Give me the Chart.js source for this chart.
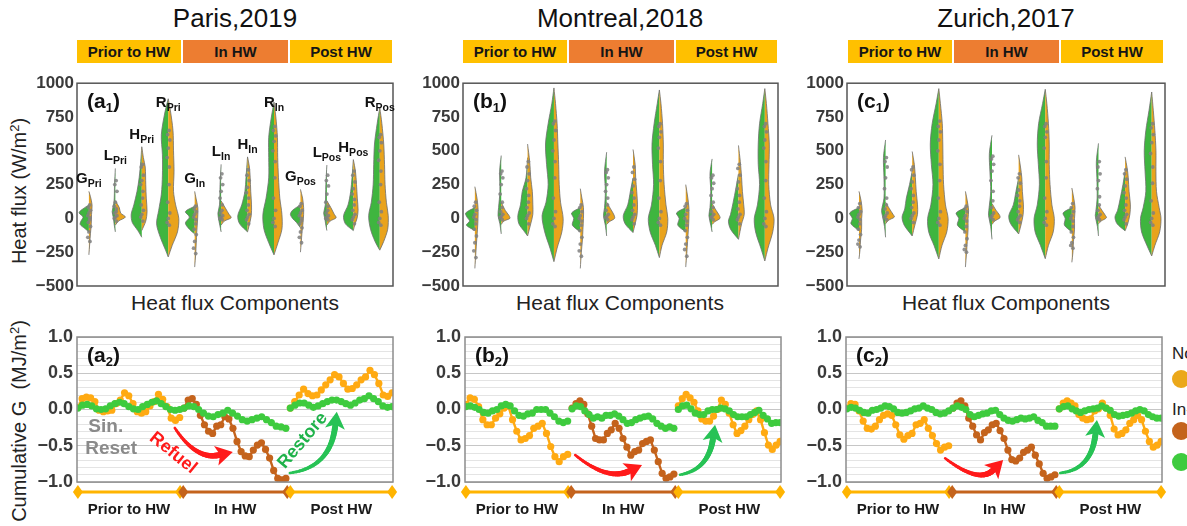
<!DOCTYPE html>
<html>
<head>
<meta charset="utf-8">
<script src="https://cdn.jsdelivr.net/npm/chart.js@4.4.0/dist/chart.umd.min.js"></script>
<style>
body { margin: 0; background: #fff; font-family: "Liberation Sans", Arial, sans-serif; }
#fig { position: relative; width: 1187px; height: 526px; overflow: hidden; background: #fff; }
#fig canvas { position: absolute; }
.title { position: absolute; top: 3px; width: 300px; margin-left: -150px; text-align: center; font-size: 26px; line-height: 30px; color: #111; }
.hw { position: absolute; top: 40px; height: 23px; line-height: 23px; text-align: center; font-weight: bold; font-size: 15px; color: #151515; }
.xtitle { position: absolute; top: 291px; width: 300px; margin-left: -150px; text-align: center; font-size: 21px; line-height: 24px; color: #222; }
.ytitle { position: absolute; transform: translate(-50%, -50%) rotate(-90deg); white-space: nowrap; font-size: 20px; color: #222; }
.ytitle sup { font-size: 13px; }
.leg { position: absolute; left: 1172px; font-size: 17px; color: #222; white-space: nowrap; }
.dot { position: absolute; left: 1172px; width: 18px; height: 18px; border-radius: 50%; }
</style>
</head>
<body>
<div id="fig">
  <div class="title" style="left:235px">Paris,2019</div>
  <div class="title" style="left:620px">Montreal,2018</div>
  <div class="title" style="left:1006px">Zurich,2017</div>

  <div id="bars"></div>

  <div class="ytitle" style="left:19px; top:191px">Heat flux (W/m<sup>2</sup>)</div>
  <div class="ytitle" style="left:19px; top:421px">Cumulative G&nbsp;&nbsp;(MJ/m<sup>2</sup>)</div>

  <div class="xtitle" style="left:235px">Heat flux Components</div>
  <div class="xtitle" style="left:620px">Heat flux Components</div>
  <div class="xtitle" style="left:1006px">Heat flux Components</div>

  <canvas id="fa" width="400" height="250" style="left:0px; top:70px"></canvas>
  <canvas id="fb" width="380" height="250" style="left:405px; top:70px"></canvas>
  <canvas id="fc" width="385" height="250" style="left:790px; top:70px"></canvas>
  <canvas id="ca" width="400" height="206" style="left:0px; top:320px"></canvas>
  <canvas id="cb" width="385" height="206" style="left:405px; top:320px"></canvas>
  <canvas id="cc" width="380" height="206" style="left:790px; top:320px"></canvas>

  <div class="leg" style="top:344px">Non-HW</div>
  <div class="dot" style="top:370px; background:#EBA81A"></div>
  <div class="leg" style="top:400px">In-HW</div>
  <div class="dot" style="top:422px; background:#C4631C"></div>
  <div class="dot" style="top:453px; background:#3ECB3E"></div>
</div>

<script>
const FONT = '"Liberation Sans", Arial, sans-serif';

const periodNames = ["Prior to HW", "In HW", "Post HW"];
const components = ["G", "L", "H", "R"];
const periodTags = ["Pri", "In", "Pos"];
const fluxTicks = [-500, -250, 0, 250, 500, 750, 1000];
const cumulativeTicks = [-1.0, -0.5, 0.0, 0.5, 1.0];

// violin halves: [heat flux (W/m2), half width], order G,L,H,R x Pri,In,Pos
const parisGreen = [
	[[100,0],[60,0.3],[40,0.37],[10,0.22],[-20,0.3],[-45,0.33],[-75,0.15],[-100,0]],
	[[370,0],[250,0.03],[120,0.05],[50,0.12],[10,0.08],[-50,0.04],[-100,0]],
	[[530,0],[420,0.04],[300,0.1],[200,0.18],[100,0.3],[30,0.4],[-30,0.36],[-90,0.15],[-140,0]],
	[[885,0],[790,0.12],[620,0.26],[470,0.22],[320,0.22],[180,0.26],[60,0.36],[-40,0.44],[-140,0.3],[-235,0.1],[-285,0]],
	[[90,0],[50,0.35],[10,0.2],[-35,0.35],[-80,0.2],[-115,0]],
	[[400,0],[250,0.04],[100,0.06],[40,0.12],[0,0.1],[-50,0.05],[-100,0]],
	[[455,0],[300,0.06],[200,0.1],[100,0.22],[20,0.37],[-40,0.3],[-100,0]],
	[[860,0],[750,0.1],[600,0.2],[450,0.2],[300,0.2],[150,0.3],[30,0.42],[-80,0.38],[-180,0.2],[-270,0]],
	[[100,0],[60,0.3],[30,0.38],[0,0.3],[-30,0.15],[-70,0]],
	[[395,0],[250,0.04],[100,0.06],[40,0.12],[0,0.08],[-50,0.04],[-90,0]],
	[[435,0],[300,0.05],[200,0.1],[100,0.2],[20,0.37],[-40,0.3],[-90,0]],
	[[820,0],[700,0.1],[550,0.2],[400,0.23],[250,0.25],[120,0.32],[20,0.42],[-80,0.35],[-170,0.18],[-235,0]],
];
const parisOrange = [
	[[200,0],[160,0.06],[100,0.12],[30,0.1],[-40,0.09],[-110,0.06],[-190,0.03],[-270,0]],
	[[130,0],[80,0.15],[40,0.2],[10,0.38],[-20,0.12],[-50,0]],
	[[530,0],[450,0.06],[380,0.13],[250,0.15],[150,0.17],[50,0.2],[-20,0.15],[-90,0]],
	[[885,0],[800,0.08],[650,0.18],[500,0.2],[350,0.22],[200,0.2],[100,0.28],[0,0.4],[-100,0.35],[-200,0.15],[-285,0]],
	[[200,0],[150,0.05],[80,0.12],[30,0.12],[-40,0.1],[-100,0.08],[-180,0.06],[-260,0.04],[-360,0]],
	[[130,0],[70,0.18],[30,0.3],[5,0.38],[-20,0.12],[-50,0]],
	[[455,0],[380,0.07],[300,0.1],[200,0.12],[100,0.15],[20,0.14],[-60,0.05],[-100,0]],
	[[860,0],[750,0.07],[600,0.13],[450,0.14],[300,0.17],[150,0.22],[30,0.3],[-80,0.3],[-180,0.15],[-270,0]],
	[[215,0],[150,0.08],[80,0.12],[30,0.12],[-30,0.1],[-100,0.06],[-180,0.03],[-250,0]],
	[[130,0],[80,0.15],[30,0.28],[5,0.35],[-20,0.12],[-50,0]],
	[[435,0],[350,0.08],[250,0.12],[150,0.15],[60,0.18],[0,0.14],[-50,0.05],[-90,0]],
	[[820,0],[700,0.08],[550,0.15],[400,0.18],[250,0.2],[120,0.25],[20,0.32],[-80,0.3],[-170,0.15],[-235,0]],
];
const parisSamples = [
	[100, 80, 60, 40, 20, 5, -10, -30, -60, -100, -140, -170],
	[280, 250, 200, 120, 90, 70, 50, 40, 20, 10, 0, -20],
	[400, 380, 320, 280, 250, 200, 150, 100, 60, 30, 10, -20],
	[650, 620, 580, 520, 450, 380, 250, 120, 40, 0, -30, -50],
	[90, 70, 50, 30, 10, -10, -40, -80, -120, -170, -220, -260],
	[330, 300, 250, 200, 150, 100, 60, 40, 20, 10, 0, -10],
	[360, 320, 280, 230, 190, 150, 100, 60, 30, 10, -10, -40],
	[680, 650, 610, 570, 500, 420, 300, 150, 60, 0, -30, -60],
	[110, 90, 60, 40, 20, 0, -20, -40, -70, -100, -140, -180],
	[320, 280, 240, 180, 120, 90, 60, 40, 20, 10, 0, -10],
	[350, 320, 270, 220, 180, 140, 100, 60, 30, 10, -10, -40],
	[620, 600, 560, 500, 430, 350, 250, 120, 50, 0, -30, -50],
];

const montrealGreen = [
	[[80,0],[40,0.35],[10,0.3],[-20,0.2],[-50,0.32],[-90,0]],
	[[465,0],[350,0.06],[200,0.05],[80,0.1],[20,0.12],[-40,0.05],[-115,0]],
	[[450,0],[300,0.06],[200,0.2],[100,0.27],[20,0.37],[-40,0.33],[-90,0.15],[-130,0]],
	[[965,0],[850,0.08],[700,0.22],[550,0.32],[400,0.28],[250,0.22],[120,0.3],[20,0.45],[-100,0.35],[-220,0.15],[-320,0]],
	[[80,0],[40,0.33],[0,0.25],[-50,0.3],[-100,0]],
	[[490,0],[350,0.08],[200,0.05],[80,0.08],[20,0.12],[-50,0.05],[-130,0]],
	[[300,0],[200,0.1],[100,0.2],[20,0.37],[-40,0.3],[-105,0]],
	[[950,0],[850,0.08],[700,0.2],[550,0.28],[400,0.26],[250,0.22],[100,0.3],[0,0.42],[-100,0.35],[-200,0.15],[-290,0]],
	[[80,0],[40,0.35],[0,0.25],[-50,0.3],[-100,0]],
	[[440,0],[330,0.08],[200,0.05],[80,0.08],[20,0.12],[-50,0.05],[-100,0]],
	[[330,0],[220,0.1],[120,0.2],[30,0.3],[-20,0.38],[-80,0.3],[-155,0]],
	[[960,0],[850,0.08],[700,0.2],[550,0.25],[400,0.25],[250,0.2],[100,0.28],[0,0.4],[-100,0.35],[-220,0.15],[-315,0]],
];
const montrealOrange = [
	[[235,0],[150,0.08],[80,0.12],[0,0.12],[-80,0.1],[-160,0.07],[-250,0.04],[-370,0]],
	[[120,0],[60,0.15],[20,0.3],[0,0.33],[-20,0.1],[-45,0]],
	[[550,0],[420,0.08],[300,0.12],[200,0.18],[100,0.2],[30,0.2],[-40,0.12],[-130,0]],
	[[965,0],[850,0.06],[700,0.12],[550,0.15],[400,0.18],[250,0.2],[120,0.25],[0,0.35],[-100,0.3],[-220,0.12],[-320,0]],
	[[220,0],[150,0.06],[80,0.12],[0,0.12],[-80,0.1],[-160,0.08],[-250,0.04],[-370,0]],
	[[120,0],[70,0.15],[25,0.28],[0,0.3],[-25,0.1],[-45,0]],
	[[510,0],[400,0.08],[300,0.1],[200,0.14],[100,0.17],[20,0.15],[-40,0.08],[-105,0]],
	[[950,0],[850,0.06],[700,0.12],[550,0.15],[400,0.15],[250,0.18],[100,0.25],[0,0.32],[-100,0.28],[-200,0.1],[-290,0]],
	[[250,0],[150,0.08],[80,0.12],[0,0.12],[-80,0.1],[-170,0.07],[-260,0.04],[-360,0]],
	[[110,0],[60,0.15],[20,0.28],[0,0.3],[-25,0.1],[-45,0]],
	[[540,0],[420,0.07],[300,0.12],[200,0.15],[100,0.2],[30,0.22],[-40,0.12],[-155,0]],
	[[960,0],[850,0.06],[700,0.12],[550,0.17],[400,0.16],[250,0.15],[100,0.22],[0,0.35],[-100,0.3],[-220,0.12],[-315,0]],
];
const montrealSamples = [
	[120, 90, 60, 30, 10, -10, -40, -80, -130, -180, -240, -290],
	[350, 330, 300, 250, 180, 120, 80, 50, 30, 15, 5, -10],
	[420, 380, 330, 280, 220, 170, 120, 80, 40, 20, 0, -40],
	[720, 700, 650, 580, 500, 420, 300, 150, 50, 0, -40, -60],
	[100, 80, 50, 20, 0, -20, -50, -90, -140, -190, -240, -280],
	[360, 340, 300, 250, 200, 150, 100, 60, 30, 15, 5, -10],
	[380, 340, 290, 240, 190, 150, 100, 60, 30, 10, -10, -40],
	[700, 680, 640, 600, 520, 420, 280, 150, 50, 0, -30, -50],
	[110, 90, 60, 30, 0, -20, -50, -90, -140, -190, -230, -280],
	[320, 300, 260, 220, 170, 120, 80, 50, 30, 15, 5, -10],
	[400, 370, 320, 270, 220, 170, 120, 70, 30, 10, -10, -40],
	[700, 680, 640, 580, 520, 420, 280, 150, 50, 0, -40, -60],
];

const zurichGreen = [
	[[80,0],[40,0.35],[0,0.25],[-40,0.3],[-90,0]],
	[[580,0],[450,0.08],[300,0.06],[150,0.06],[60,0.15],[20,0.12],[-60,0.04],[-140,0]],
	[[350,0],[250,0.1],[150,0.22],[70,0.28],[10,0.38],[-50,0.3],[-130,0]],
	[[960,0],[850,0.1],[700,0.25],[550,0.32],[400,0.28],[250,0.22],[100,0.3],[0,0.42],[-100,0.38],[-200,0.18],[-300,0]],
	[[80,0],[40,0.35],[0,0.25],[-50,0.3],[-100,0]],
	[[615,0],[480,0.1],[350,0.08],[200,0.05],[60,0.12],[20,0.13],[-60,0.05],[-155,0]],
	[[300,0],[200,0.1],[100,0.2],[20,0.37],[-40,0.3],[-115,0]],
	[[955,0],[850,0.1],[700,0.25],[550,0.3],[400,0.26],[250,0.22],[100,0.3],[0,0.42],[-100,0.38],[-200,0.18],[-298,0]],
	[[80,0],[40,0.33],[0,0.25],[-50,0.28],[-100,0]],
	[[555,0],[420,0.08],[300,0.06],[150,0.05],[50,0.1],[20,0.12],[-60,0.04],[-130,0]],
	[[350,0],[250,0.08],[150,0.18],[60,0.28],[10,0.38],[-40,0.3],[-92,0]],
	[[935,0],[800,0.1],[650,0.22],[500,0.28],[350,0.25],[200,0.22],[80,0.32],[0,0.42],[-100,0.38],[-200,0.18],[-278,0]],
];
const zurichOrange = [
	[[200,0],[130,0.08],[60,0.12],[0,0.1],[-80,0.1],[-160,0.06],[-230,0.04],[-300,0]],
	[[120,0],[70,0.15],[30,0.28],[10,0.33],[-15,0.1],[-40,0]],
	[[495,0],[400,0.08],[300,0.12],[200,0.15],[100,0.2],[30,0.2],[-50,0.1],[-130,0]],
	[[960,0],[850,0.06],[700,0.13],[550,0.15],[400,0.16],[250,0.18],[100,0.25],[0,0.35],[-100,0.3],[-200,0.12],[-300,0]],
	[[200,0],[130,0.07],[60,0.12],[0,0.1],[-80,0.1],[-170,0.07],[-260,0.04],[-360,0]],
	[[110,0],[60,0.15],[25,0.28],[5,0.3],[-20,0.1],[-45,0]],
	[[470,0],[380,0.07],[300,0.12],[200,0.14],[100,0.18],[30,0.17],[-40,0.1],[-115,0]],
	[[955,0],[850,0.06],[700,0.12],[550,0.15],[400,0.15],[250,0.18],[100,0.25],[0,0.34],[-100,0.3],[-200,0.12],[-298,0]],
	[[225,0],[150,0.07],[80,0.12],[0,0.1],[-80,0.1],[-170,0.06],[-250,0.04],[-325,0]],
	[[100,0],[60,0.13],[25,0.25],[5,0.3],[-20,0.1],[-40,0]],
	[[455,0],[370,0.08],[300,0.12],[200,0.15],[100,0.2],[30,0.18],[-40,0.1],[-92,0]],
	[[935,0],[800,0.06],[650,0.12],[500,0.16],[350,0.16],[200,0.18],[80,0.28],[0,0.35],[-100,0.3],[-200,0.12],[-278,0]],
];
const zurichSamples = [
	[110, 80, 50, 30, 10, -10, -40, -80, -120, -160, -190, -210],
	[450, 420, 380, 300, 220, 150, 100, 70, 40, 20, 5, -10],
	[380, 360, 320, 270, 220, 170, 120, 80, 40, 20, 0, -30],
	[720, 680, 640, 580, 500, 400, 280, 150, 50, 0, -30, -50],
	[90, 70, 50, 20, 0, -20, -60, -100, -150, -200, -230, -250],
	[460, 440, 400, 350, 280, 200, 130, 80, 40, 20, 5, -10],
	[330, 300, 260, 210, 170, 130, 90, 50, 20, 5, -10, -30],
	[700, 680, 640, 600, 520, 420, 300, 150, 50, 0, -30, -50],
	[110, 80, 50, 20, 0, -20, -60, -100, -140, -180, -200, -220],
	[420, 380, 330, 280, 220, 160, 100, 60, 30, 15, 0, -10],
	[360, 330, 290, 240, 190, 150, 100, 60, 30, 10, -10, -40],
	[700, 670, 620, 560, 480, 380, 260, 130, 40, 0, -30, -50],
];

// cumulative G (MJ/m2) per period: HW-affected series and the Sin. reference
const parisPrior = [0.03, 0.15, 0.17, 0.16, 0.11, -0.01, -0.03, -0.02, -0.01, 0.08, 0.13, 0.23, 0.19, 0.08, -0.03, -0.05, -0.03, 0.05, 0.11, 0.21, 0.14, 0.04, -0.12, -0.15, -0.11];
const parisPriorSin = [0.02, 0.06, 0.07, 0.05, 0.01, 0.0, 0.01, 0.05, 0.08, 0.10, 0.08, 0.04, 0.01, 0.0, 0.04, 0.07, 0.10, 0.12, 0.08, 0.04, 0.0, -0.01, 0.0];
const parisIn = [0.02, 0.13, 0.15, 0.07, -0.08, -0.21, -0.30, -0.33, -0.23, -0.21, -0.10, -0.13, -0.26, -0.44, -0.58, -0.64, -0.65, -0.56, -0.49, -0.46, -0.55, -0.67, -0.84, -0.95, -0.97, -0.95];
const parisInSin = [0.02, 0.05, 0.04, 0.0, -0.05, -0.09, -0.10, -0.07, -0.05, -0.01, -0.05, -0.09, -0.14, -0.16, -0.14, -0.12, -0.10, -0.14, -0.18, -0.23, -0.24, -0.26];
const parisPost = [0.02, 0.11, 0.20, 0.28, 0.22, 0.19, 0.20, 0.27, 0.34, 0.41, 0.48, 0.45, 0.36, 0.28, 0.29, 0.34, 0.41, 0.45, 0.54, 0.48, 0.36, 0.20, 0.18, 0.23];
const parisPostSin = [0.02, 0.06, 0.09, 0.09, 0.06, 0.03, 0.05, 0.08, 0.11, 0.13, 0.13, 0.11, 0.08, 0.06, 0.09, 0.13, 0.15, 0.19, 0.15, 0.11, 0.05, 0.03, 0.04];

const montrealPrior = [0.07, 0.16, 0.14, 0.04, -0.14, -0.21, -0.21, -0.12, -0.06, 0.02, 0.05, -0.14, -0.30, -0.42, -0.40, -0.36, -0.26, -0.23, -0.19, -0.33, -0.51, -0.65, -0.72, -0.65, -0.62];
const montrealPriorSin = [0.04, 0.05, 0.03, 0.0, -0.04, -0.05, -0.02, 0.0, 0.05, 0.07, 0.05, -0.02, -0.08, -0.09, -0.06, -0.05, 0.0, 0.0, 0.0, -0.05, -0.10, -0.16, -0.18, -0.16];
const montrealIn = [0.02, 0.08, 0.12, 0.07, -0.06, -0.23, -0.40, -0.42, -0.42, -0.33, -0.28, -0.19, -0.26, -0.40, -0.52, -0.63, -0.58, -0.56, -0.47, -0.44, -0.42, -0.56, -0.72, -0.88, -0.95, -0.93, -0.89];
const montrealInSin = [0.01, 0.05, 0.04, -0.02, -0.07, -0.12, -0.10, -0.12, -0.08, -0.08, -0.06, -0.09, -0.14, -0.19, -0.18, -0.14, -0.12, -0.10, -0.09, -0.13, -0.19, -0.23, -0.26, -0.24, -0.26];
const montrealPost = [0.05, 0.15, 0.21, 0.16, 0.10, -0.02, -0.13, -0.16, -0.16, -0.09, 0.0, 0.13, 0.07, -0.05, -0.21, -0.33, -0.29, -0.23, -0.14, -0.07, -0.02, -0.14, -0.32, -0.49, -0.55, -0.49, -0.44];
const montrealPostSin = [0.0, 0.05, 0.06, 0.01, -0.05, -0.07, -0.07, -0.02, 0.0, 0.0, 0.02, 0.01, -0.02, -0.07, -0.10, -0.10, -0.10, -0.07, -0.04, -0.01, -0.08, -0.13, -0.19, -0.18, -0.18];

const zurichPrior = [0.02, 0.08, 0.07, -0.02, -0.16, -0.26, -0.27, -0.23, -0.14, -0.08, -0.06, -0.08, -0.21, -0.35, -0.41, -0.36, -0.33, -0.21, -0.19, -0.14, -0.26, -0.36, -0.47, -0.56, -0.52, -0.50];
const zurichPriorSin = [0.01, 0.03, 0.02, -0.01, -0.04, -0.05, -0.01, 0.0, 0.02, 0.05, 0.04, 0.01, -0.04, -0.05, -0.04, -0.02, 0.01, 0.02, 0.05, 0.02, 0.0, -0.04, -0.06, -0.05, -0.02];
const zurichIn = [0.02, 0.09, 0.12, 0.05, -0.12, -0.23, -0.35, -0.42, -0.32, -0.28, -0.21, -0.19, -0.29, -0.40, -0.56, -0.69, -0.71, -0.67, -0.59, -0.56, -0.52, -0.63, -0.75, -0.88, -0.95, -0.93, -0.90];
const zurichInSin = [0.02, 0.05, 0.03, 0.0, -0.07, -0.10, -0.08, -0.06, -0.05, -0.02, -0.01, -0.07, -0.12, -0.15, -0.16, -0.14, -0.12, -0.13, -0.12, -0.10, -0.15, -0.18, -0.23, -0.23, -0.23];
const zurichPost = [0.01, 0.09, 0.12, 0.09, 0.05, -0.07, -0.12, -0.14, -0.13, -0.02, 0.01, 0.09, 0.02, -0.08, -0.27, -0.35, -0.33, -0.28, -0.19, -0.14, -0.08, -0.14, -0.30, -0.44, -0.52, -0.49, -0.44];
const zurichPostSin = [0.01, 0.04, 0.05, 0.01, -0.02, -0.04, -0.02, 0.0, 0.01, 0.02, 0.05, 0.02, -0.01, -0.07, -0.09, -0.08, -0.07, -0.05, -0.02, 0.0, -0.02, -0.07, -0.10, -0.12, -0.12];

const VIOLIN_GREEN = "#3FB53F";
const VIOLIN_ORANGE = "#E9A31C";
const LINE_ORANGE = "#FFAA12";
const LINE_BROWN = "#C4631C";
const LINE_GREEN = "#3ECB3E";
const BAR_LIGHT = "#FFC000";
const BAR_DARK = "#ED7D31";
const JITTER = [0.03, -0.02, 0.06, 0.0, -0.04, 0.04];

function minus(text) {
	return String(text).replace("-", "\u2212");
}

// text made of pieces, e.g. main letter + subscript
function drawParts(ctx, x, y, parts, centered) {
	let total = 0;
	for (const p of parts) {
		ctx.font = p.font;
		p.w = ctx.measureText(p.text).width;
		total += p.w;
	}
	let cx = centered ? x - total / 2 : x;
	ctx.textAlign = "left";
	ctx.textBaseline = "alphabetic";
	for (const p of parts) {
		ctx.font = p.font;
		ctx.fillText(p.text, cx, y + p.dy);
		cx += p.w;
	}
}

function framePlugin(color) {
	return {
		id: "frame",
		afterDraw(chart) {
			const { ctx, chartArea: a } = chart;
			ctx.save();
			ctx.strokeStyle = color;
			ctx.lineWidth = 1.5;
			ctx.strokeRect(a.left, a.top, a.right - a.left, a.bottom - a.top);
			ctx.restore();
		},
	};
}

function tagPlugin(letter, index) {
	return {
		id: "tag",
		afterDraw(chart) {
			const { ctx, chartArea: a } = chart;
			ctx.save();
			ctx.fillStyle = "#111";
			drawParts(ctx, a.left + 10, a.top + 25, [
				{ text: "(" + letter, font: `bold 21px ${FONT}`, dy: 0 },
				{ text: index, font: `bold 13px ${FONT}`, dy: 4 },
				{ text: ")", font: `bold 21px ${FONT}`, dy: 0 },
			], false);
			ctx.restore();
		},
	};
}

function violinLabelPlugin(greens, oranges) {
	return {
		id: "violinLabels",
		afterDraw(chart) {
			const { ctx, chartArea: a, scales } = chart;
			ctx.save();
			ctx.fillStyle = "#111";
			greens.forEach((shape, i) => {
				const top = Math.max(shape[0][0], oranges[i][0][0]);
				const py = Math.max(scales.y.getPixelForValue(top) - 8, a.top + 24);
				const px = scales.x.getPixelForValue(i);
				drawParts(ctx, px, py, [
					{ text: components[i % 4], font: `bold 15px ${FONT}`, dy: 0 },
					{ text: periodTags[Math.floor(i / 4)], font: `bold 10.5px ${FONT}`, dy: 4 },
				], true);
			});
			ctx.restore();
		},
	};
}

function halfViolin(shape, i, side, color) {
	return {
		data: shape.map(([y, w]) => ({ x: i + side * w, y })),
		fill: "shape",
		backgroundColor: color,
		borderColor: "#6e6e6e",
		borderWidth: 0.8,
		pointRadius: 0,
		tension: 0.3,
	};
}

function fluxChart(id, greens, oranges, samples, axisWidth, padRight, tag, labelled) {
	const pts = [];
	samples.forEach((vals, i) => {
		vals.forEach((v, k) => pts.push({ x: i + JITTER[k % JITTER.length], y: v }));
	});
	const datasets = [
		{ data: pts, showLine: false, pointRadius: 1.9, pointBorderWidth: 0, pointBackgroundColor: "rgba(128,128,128,0.85)" },
		...oranges.map((s, i) => halfViolin(s, i, 1, VIOLIN_ORANGE)),
		...greens.map((s, i) => halfViolin(s, i, -1, VIOLIN_GREEN)),
	];
	const plugins = [framePlugin("#555"), tagPlugin(tag, "1")];
	if (labelled) plugins.push(violinLabelPlugin(greens, oranges));
	new Chart(document.getElementById(id), {
		type: "line",
		data: { datasets },
		options: {
			responsive: false,
			animation: false,
			devicePixelRatio: 1,
			layout: { padding: { top: 11, bottom: 34, left: 0, right: padRight } },
			plugins: { legend: { display: false }, tooltip: { enabled: false } },
			scales: {
				x: { type: "linear", min: -0.45, max: 11.5, display: false },
				y: {
					min: -500,
					max: 1000,
					afterBuildTicks: (s) => {
						s.ticks = fluxTicks.map((v) => ({ value: v }));
					},
					afterFit: (s) => {
						s.width = axisWidth;
					},
					grid: { display: false, drawTicks: false },
					border: { display: false },
					ticks: {
						autoSkip: false,
						padding: 3,
						color: "#3a3a3a",
						font: { family: FONT, size: 17, weight: "bold" },
						callback: (v) => minus(v),
					},
				},
			},
		},
		plugins,
	});
}

function periodPoints(values, p) {
	const n = values.length;
	return values.map((v, i) => ({ x: p * 24 + (i * 23) / (n - 1), y: v }));
}

function seriesSet(points, color) {
	return {
		data: points,
		borderColor: color,
		backgroundColor: color,
		borderWidth: 2.4,
		pointRadius: 3.6,
		pointBorderWidth: 0,
		pointBackgroundColor: color,
		tension: 0,
		fill: false,
	};
}

function drawArrow(chart, a, color) {
	const { ctx, scales } = chart;
	const P = ([u, v]) => [scales.x.getPixelForValue(u), scales.y.getPixelForValue(v)];
	const s = P(a.from), c = P(a.ctrl), t = P(a.to);
	let dx = t[0] - c[0], dy = t[1] - c[1];
	const len = Math.hypot(dx, dy);
	dx /= len;
	dy /= len;
	const head = 17, half = 10;
	const e = [t[0] - dx * (head - 3), t[1] - dy * (head - 3)];
	ctx.save();
	ctx.strokeStyle = color;
	ctx.fillStyle = color;
	ctx.lineCap = "round";
	const steps = 24;
	let prev = s;
	for (let k = 1; k <= steps; k++) {
		const u = k / steps;
		const q = [
			(1 - u) * (1 - u) * s[0] + 2 * (1 - u) * u * c[0] + u * u * e[0],
			(1 - u) * (1 - u) * s[1] + 2 * (1 - u) * u * c[1] + u * u * e[1],
		];
		ctx.lineWidth = 2.5 + 3.5 * u;
		ctx.beginPath();
		ctx.moveTo(prev[0], prev[1]);
		ctx.lineTo(q[0], q[1]);
		ctx.stroke();
		prev = q;
	}
	const b = [t[0] - dx * head, t[1] - dy * head];
	ctx.beginPath();
	ctx.moveTo(t[0], t[1]);
	ctx.lineTo(b[0] - dy * half, b[1] + dx * half);
	ctx.lineTo(b[0] + dx * 4, b[1] + dy * 4);
	ctx.lineTo(b[0] + dy * half, b[1] - dx * half);
	ctx.closePath();
	ctx.fill();
	ctx.restore();
}

function notesPlugin(arrows, notes) {
	return {
		id: "notes",
		afterDatasetsDraw(chart) {
			const { ctx, scales } = chart;
			drawArrow(chart, arrows.refuel, "#FF1A1A");
			drawArrow(chart, arrows.restore, "#27C255");
			for (const n of notes) {
				ctx.save();
				ctx.translate(scales.x.getPixelForValue(n.x), scales.y.getPixelForValue(n.y));
				ctx.rotate((n.rot * Math.PI) / 180);
				ctx.font = `bold ${n.size}px ${FONT}`;
				ctx.fillStyle = n.color;
				ctx.textAlign = "center";
				ctx.textBaseline = "middle";
				ctx.fillText(n.text, 0, 0);
				ctx.restore();
			}
		},
	};
}

const PERIOD_SPANS = [[0, 23.1], [23.8, 47.3], [48.0, 71.0]];
const periodPlugin = {
	id: "periods",
	afterDraw(chart) {
		const { ctx, chartArea: a, scales } = chart;
		const y = a.bottom + 10;
		ctx.save();
		PERIOD_SPANS.forEach(([u0, u1], p) => {
			const x0 = scales.x.getPixelForValue(u0);
			const x1 = scales.x.getPixelForValue(u1);
			const color = p === 1 ? LINE_BROWN : "#FFB400";
			ctx.strokeStyle = color;
			ctx.fillStyle = color;
			ctx.lineWidth = 3;
			ctx.beginPath();
			ctx.moveTo(x0, y);
			ctx.lineTo(x1, y);
			ctx.stroke();
			for (const xd of [x0, x1]) {
				ctx.beginPath();
				ctx.moveTo(xd, y - 7);
				ctx.lineTo(xd + 5, y);
				ctx.lineTo(xd, y + 7);
				ctx.lineTo(xd - 5, y);
				ctx.closePath();
				ctx.fill();
			}
			ctx.fillStyle = "#1a1a1a";
			ctx.font = `bold 15px ${FONT}`;
			ctx.textAlign = "center";
			ctx.textBaseline = "middle";
			ctx.fillText(periodNames[p], (x0 + x1) / 2, a.bottom + 28);
		});
		ctx.restore();
	},
};

function cumulativeChart(id, mains, sins, axisWidth, padRight, tag, arrows, notes) {
	const datasets = [
		...sins.map((vals, p) => seriesSet(periodPoints(vals, p), LINE_GREEN)),
		...mains.map((vals, p) => seriesSet(periodPoints(vals, p), p === 1 ? LINE_BROWN : LINE_ORANGE)),
	];
	new Chart(document.getElementById(id), {
		type: "line",
		data: { datasets },
		options: {
			responsive: false,
			animation: false,
			devicePixelRatio: 1,
			layout: { padding: { top: 17, bottom: 44, left: 0, right: padRight } },
			plugins: { legend: { display: false }, tooltip: { enabled: false } },
			scales: {
				x: { type: "linear", min: -0.2, max: 71.2, display: false },
				y: {
					min: -1,
					max: 1,
					ticks: {
						stepSize: 0.1,
						autoSkip: false,
						padding: 4,
						color: "#3a3a3a",
						font: { family: FONT, size: 18, weight: "bold" },
						callback: (v) => {
							const hit = cumulativeTicks.find((t) => Math.abs(t - v) < 1e-6);
							return hit === undefined ? "" : minus(hit.toFixed(1));
						},
					},
					afterFit: (s) => {
						s.width = axisWidth;
					},
					grid: {
						drawTicks: false,
						lineWidth: 1,
						color: (ctx) => {
							const v = ctx.tick.value;
							return cumulativeTicks.some((t) => Math.abs(t - v) < 1e-6) ? "#c6c6c6" : "#e4e4e4";
						},
					},
					border: { display: false },
				},
			},
		},
		plugins: [framePlugin("#8c8c8c"), tagPlugin(tag, "2"), periodPlugin, notesPlugin(arrows, notes)],
	});
}

// bars above the violin panels
const barRows = [[77, 183, 290, 394], [463, 569, 676, 779], [848, 954, 1061, 1165]];
const bars = document.getElementById("bars");
barRows.forEach((edges) => {
	periodNames.forEach((name, p) => {
		const d = document.createElement("div");
		d.className = "hw";
		d.textContent = name;
		d.style.left = edges[p] + "px";
		d.style.width = edges[p + 1] - edges[p] - 2 + "px";
		d.style.background = p === 1 ? BAR_DARK : BAR_LIGHT;
		bars.appendChild(d);
	});
});

fluxChart("fa", parisGreen, parisOrange, parisSamples, 77, 7, "a", true);
fluxChart("fb", montrealGreen, montrealOrange, montrealSamples, 58, 7, "b", false);
fluxChart("fc", zurichGreen, zurichOrange, zurichSamples, 57, 10, "c", false);

cumulativeChart("ca", [parisPrior, parisIn, parisPost], [parisPriorSin, parisInSin, parisPostSin], 77, 7, "a",
	{ refuel: { from: [21.9, -0.255], ctrl: [26.7, -0.7], to: [35.0, -0.586] },
	  restore: { from: [47.9, -0.876], ctrl: [57.1, -0.8], to: [58.5, -0.03] } },
	[
		{ text: "Sin.", x: 6.3, y: -0.24, rot: 0, size: 19, color: "#8a8a8a" },
		{ text: "Reset", x: 7.5, y: -0.545, rot: 0, size: 19, color: "#8a8a8a" },
		{ text: "Refuel", x: 21.5, y: -0.6, rot: 39, size: 18, color: "#FF1A1A" },
		{ text: "Restore", x: 50.8, y: -0.43, rot: -50, size: 18, color: "#1FB24A" },
	]);
cumulativeChart("cb", [montrealPrior, montrealIn, montrealPost], [montrealPriorSin, montrealInSin, montrealPostSin], 60, 9, "b",
	{ refuel: { from: [24.7, -0.628], ctrl: [32.0, -0.99], to: [39.8, -0.766] },
	  restore: { from: [48.4, -0.9], ctrl: [54.8, -0.83], to: [56.3, -0.21] } },
	[]);
cumulativeChart("cc", [zurichPrior, zurichIn, zurichPost], [zurichPriorSin, zurichInSin, zurichPostSin], 56, 8, "c",
	{ refuel: { from: [22.2, -0.673], ctrl: [29.9, -1.03], to: [35.3, -0.697] },
	  restore: { from: [48.2, -0.876], ctrl: [55.3, -0.83], to: [56.5, -0.145] } },
	[]);
</script>
</body>
</html>
